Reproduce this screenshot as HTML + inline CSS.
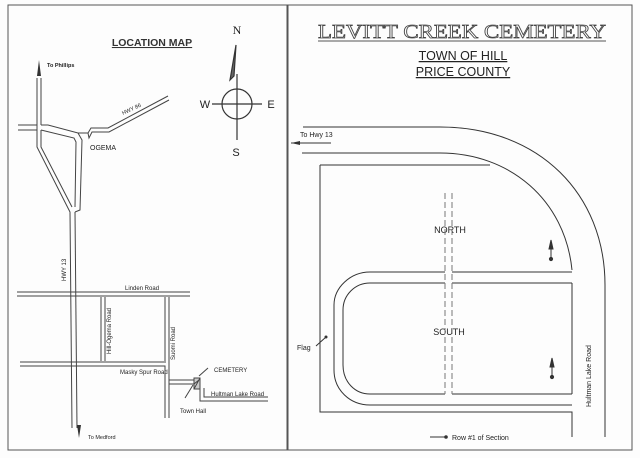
<!DOCTYPE html>
<html><head><meta charset="utf-8"><style>
html,body{margin:0;padding:0;background:#fff}
svg{display:block}
text{font-family:"Liberation Sans",sans-serif}
</style></head><body>
<svg width="640" height="458" viewBox="0 0 640 458" xmlns="http://www.w3.org/2000/svg">
<rect width="640" height="458" fill="#fdfdfd"/>
<g fill="none" stroke="#444" stroke-width="1">
<rect x="8" y="5" width="279" height="445" stroke="#555"/>
<rect x="288" y="5" width="344" height="445" stroke="#555"/>
</g>
<g fill="#222">
<text x="152" y="46" font-size="10.5" font-weight="bold" text-anchor="middle" text-decoration="underline" fill="#333">LOCATION MAP</text>
<text x="237" y="34" font-size="12" style="font-family:'Liberation Serif',serif" text-anchor="middle">N</text>
<text x="236" y="156" font-size="11" text-anchor="middle">S</text>
<text x="205" y="108" font-size="11" text-anchor="middle">W</text>
<text x="271" y="108" font-size="11" text-anchor="middle">E</text>
<text x="47" y="67" font-size="5.5" font-weight="bold">To Phillips</text>
<text x="90" y="150" font-size="7">OGEMA</text>
<text x="123" y="115" font-size="5.5" transform="rotate(-25 123 115)">HWY 86</text>
<text x="125" y="290" font-size="6">Linden Road</text>
<text x="120" y="374" font-size="6">Masky Spur Road</text>
<text x="214" y="372" font-size="6">CEMETERY</text>
<text x="211" y="396" font-size="6">Hultman Lake Road</text>
<text x="180" y="413" font-size="6">Town Hall</text>
<text x="88" y="439" font-size="5.5">To Medford</text>
<text x="66" y="281" font-size="6" transform="rotate(-90 66 281)">HWY 13</text>
<text x="111" y="354" font-size="6" transform="rotate(-90 111 354)">Hill-Ogema Road</text>
<text x="175" y="360" font-size="6" transform="rotate(-90 175 360)">Suomi Road</text>
<text x="463" y="60" font-size="12.5" text-anchor="middle" text-decoration="underline">TOWN OF HILL</text>
<text x="463" y="76" font-size="12.5" text-anchor="middle" text-decoration="underline">PRICE COUNTY</text>
<text x="450" y="233" font-size="9" text-anchor="middle">NORTH</text>
<text x="449" y="335" font-size="9" text-anchor="middle">SOUTH</text>
<text x="297" y="350" font-size="7">Flag</text>
<text x="300" y="137" font-size="7">To Hwy 13</text>
<text x="452" y="440" font-size="7">Row #1 of Section</text>
<text x="591" y="407" font-size="7" transform="rotate(-90 591 407)">Hultman Lake Road</text>
</g>
<text x="462" y="38" font-size="20" text-anchor="middle" textLength="288" lengthAdjust="spacingAndGlyphs" style="font-family:'Liberation Serif',serif;fill:#fff;stroke:#444;stroke-width:0.8">LEVITT CREEK CEMETERY</text>
<line x1="318" y1="41" x2="606" y2="41" stroke="#555"/>
<g stroke="#333" fill="none" stroke-width="1.2">
<circle cx="237" cy="104" r="15"/>
<line x1="237" y1="74" x2="237" y2="140"/>
<line x1="212" y1="104" x2="262" y2="104"/>
<path d="M236 45 L230 80 L234 76 Z" fill="#666"/>
</g>
<g stroke="#444" fill="none" stroke-width="1">
<path d="M37 78 L37 147 L70 212 L72 428"/>
<path d="M41 78 L41 125 M41 130 L41 147 L72 207"/>
<path d="M75 212 L77 428"/>
<path d="M18 125 L37 125 M41 125 L48 125 L78 133 L88 133 L91 128 L108 128 L168 96"/>
<path d="M18 130 L37 130 M41 130 L74 138 L76 142 L75 207"/>
<path d="M78 133 L82 140 L80 210 L75 212 M88 133 L89 138 L92 132 L109 132 L169 100"/>
</g>
<path d="M39 60 L37 76 L41 76 Z" fill="#333"/>
<g stroke="#444" fill="none" stroke-width="1">
<path d="M17 292 L190 292 M17 296 L190 296"/>
<path d="M101 297 L101 361 M105 297 L105 361"/>
<path d="M165 297 L165 361 M169 297 L169 418"/>
<path d="M20 362 L166 362 M20 366 L165 366 L165 418"/>
<path d="M169 380 L196 380 M169 384 L194 384"/>
<path d="M200 378 L200 401 L268 401 M204 388 L204 397 L268 397"/>
<rect x="194" y="378" width="6" height="11" fill="#ccc"/>
<path d="M194 389 L200 378 M194 384 L199 380"/>
<path d="M185 398 L193 385 M208 368 L199 376"/>
</g>
<path d="M79 438 L77 425 L81 425 Z" fill="#333"/>
<g stroke="#333" fill="none" stroke-width="1">
<path d="M303 127 L440 127 C540 127 605 195 605 285 L605 437"/>
<path d="M302 153 L440 153 C510 153 565 200 572 270"/>
<path d="M320 165 L490 165 M320 165 L320 412 L572 412 L572 437"/>
<path d="M572 283 L572 394"/>
<path d="M370 272 L445 272 M452 272 L572 272"/>
<path d="M452 283 L572 283 M445 283 L370 283 C355 283 343 295 343 310 L343 365 C343 382 355 394 370 394 L445 394 M452 394 L572 394"/>
<path d="M370 272 C350 272 334 288 334 305 L334 370 C334 390 350 405 370 405 L572 405"/>
<path d="M445 193 L445 394 M452 193 L452 394" stroke-dasharray="6 3" stroke="#777"/>
<path d="M291 143 L331 143"/>
<path d="M430 437 L446 437"/>
<path d="M316 346 L326 337"/>
</g>
<path d="M291 143 L300 141 L300 145 Z" fill="#333"/>
<circle cx="446" cy="437" r="1.8" fill="#333"/>
<circle cx="326" cy="337" r="1.5" fill="#333"/>
<g fill="#333" stroke="#333">
<line x1="551" y1="246" x2="551" y2="259"/><circle cx="551" cy="259" r="1.6"/><path d="M551 240 L549 249 L553 249 Z"/>
<line x1="552" y1="364" x2="552" y2="377"/><circle cx="552" cy="377" r="1.6"/><path d="M552 358 L550 367 L554 367 Z"/>
</g>
</svg>
</body></html>
